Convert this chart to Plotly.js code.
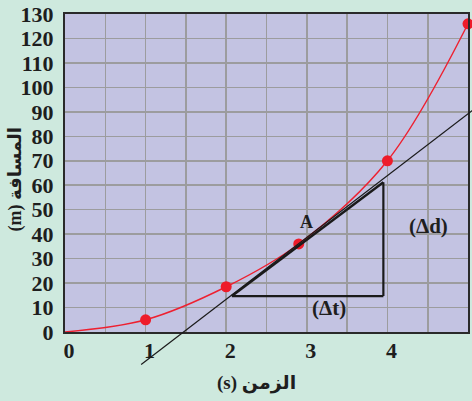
<!DOCTYPE html>
<html>
<head>
<meta charset="utf-8">
<script src="https://cdn.plot.ly/plotly-3.0.1.min.js"></script>
<style>
  html, body { margin: 0; padding: 0; background: #cee9de; }
  #chart { width: 472px; height: 401px; }
</style>
</head>
<body>
<div id="chart"></div>
<script>
// Measured positions of the moving body (time in s, distance in m)
var timeS = [1, 2, 2.9, 4, 5];
var distM = [5, 18.5, 36, 70, 126];

// Smooth distance–time curve starting at the origin
var curveT = [0, 1, 2, 2.9, 4, 5];
var curveD = [0, 5, 18.5, 36, 70, 126];

// Tangent at point A
var tangentT = [0.945, 5.06];
var tangentD = [-13.3, 90.7];

// Slope triangle: corner points and hypotenuse
var triT = [2.07, 3.95, 3.95];
var triD = [14.7, 14.7, 61.2];

var xTicks = [0, 1, 2, 3, 4, 5];
var yTicks = [0, 10, 20, 30, 40, 50, 60, 70, 80, 90, 100, 110, 120, 130];

var xRange = [0, 5];
var yRange = [0, 130];

function domX(v) { return (v - xRange[0]) / (xRange[1] - xRange[0]); }
function domY(v) { return (v - yRange[0]) / (yRange[1] - yRange[0]); }

var serif = '"Liberation Serif", "Times New Roman", "DejaVu Sans", serif';
var ink = '#1e1e1e';

var traces = [
  {
    x: curveT, y: curveD, type: 'scatter', mode: 'lines',
    line: { color: '#ee2030', width: 1.4, shape: 'spline', smoothing: 1.0 },
    hoverinfo: 'skip', cliponaxis: false
  },
  {
    x: timeS, y: distM, type: 'scatter', mode: 'markers',
    marker: { color: '#ee1c2a', size: 11 },
    cliponaxis: false
  }
];

var shapes = [
  // tangent line, allowed to run past the axes
  {
    type: 'line', xref: 'x domain', yref: 'y domain',
    x0: domX(tangentT[0]), y0: domY(tangentD[0]),
    x1: domX(tangentT[1]), y1: domY(tangentD[1]),
    line: { color: '#1a1a1a', width: 1.2 }
  },
  // Δt leg
  {
    type: 'line', xref: 'x', yref: 'y',
    x0: triT[0], y0: triD[0], x1: triT[1], y1: triD[1],
    line: { color: '#1a1a1a', width: 2.2 }
  },
  // Δd leg
  {
    type: 'line', xref: 'x', yref: 'y',
    x0: triT[1], y0: triD[1], x1: triT[2], y1: triD[2],
    line: { color: '#1a1a1a', width: 2.2 }
  },
  // hypotenuse
  {
    type: 'line', xref: 'x', yref: 'y',
    x0: triT[0], y0: triD[0], x1: triT[2], y1: triD[2],
    line: { color: '#1a1a1a', width: 2.4 }
  }
];

var annotations = [
  { x: 3.0, y: 45, text: 'A', showarrow: false, font: { family: serif, size: 18, color: ink, weight: 'bold' } },
  { x: 4.515, y: 43.4, text: '(Δd)', showarrow: false, font: { family: serif, size: 21, color: ink, weight: 'bold' } },
  { x: 3.28, y: 9.8, text: '(Δt)', showarrow: false, font: { family: serif, size: 21, color: ink, weight: 'bold' } },
  // axis titles
  { xref: 'paper', yref: 'paper', x: 0.476, y: -0.161, xanchor: 'center', yanchor: 'middle',
    text: '(s) الزمن', showarrow: false,
    font: { family: serif, size: 19, color: ink, weight: 'bold' } },
  { xref: 'paper', yref: 'paper', x: -0.124, y: 0.48, xanchor: 'center', yanchor: 'middle',
    text: '(m) المسافة', textangle: -90, showarrow: false,
    font: { family: serif, size: 18, color: ink, weight: 'bold' } }
];

var layout = {
  width: 472, height: 401,
  margin: { l: 65, r: 4, t: 14, b: 69 },
  paper_bgcolor: '#cee9de',
  plot_bgcolor: '#c3c3e2',
  showlegend: false,
  xaxis: {
    range: xRange, tickvals: xTicks, ticks: '',
    showgrid: true, gridcolor: '#9c9c9e', gridwidth: 1.6,
    minor: { dtick: 0.5, showgrid: true, gridcolor: '#9c9c9e', gridwidth: 1.6 },
    zeroline: false,
    showline: true, linecolor: '#2a2a2a', linewidth: 2, mirror: true,
    ticklabelstandoff: -2, ticklabelshift: 4,
    tickfont: { family: serif, size: 22, color: ink, weight: 'bold' }
  },
  yaxis: {
    range: yRange, tickvals: yTicks, ticks: '',
    showgrid: true, gridcolor: '#9c9c9e', gridwidth: 1.6,
    zeroline: false,
    showline: true, linecolor: '#2a2a2a', linewidth: 2, mirror: true,
    ticklabelstandoff: 5,
    tickfont: { family: serif, size: 22, color: ink, weight: 'bold' }
  },
  shapes: shapes,
  annotations: annotations
};

Plotly.newPlot('chart', traces, layout, { displayModeBar: false, staticPlot: true });
</script>
</body>
</html>
